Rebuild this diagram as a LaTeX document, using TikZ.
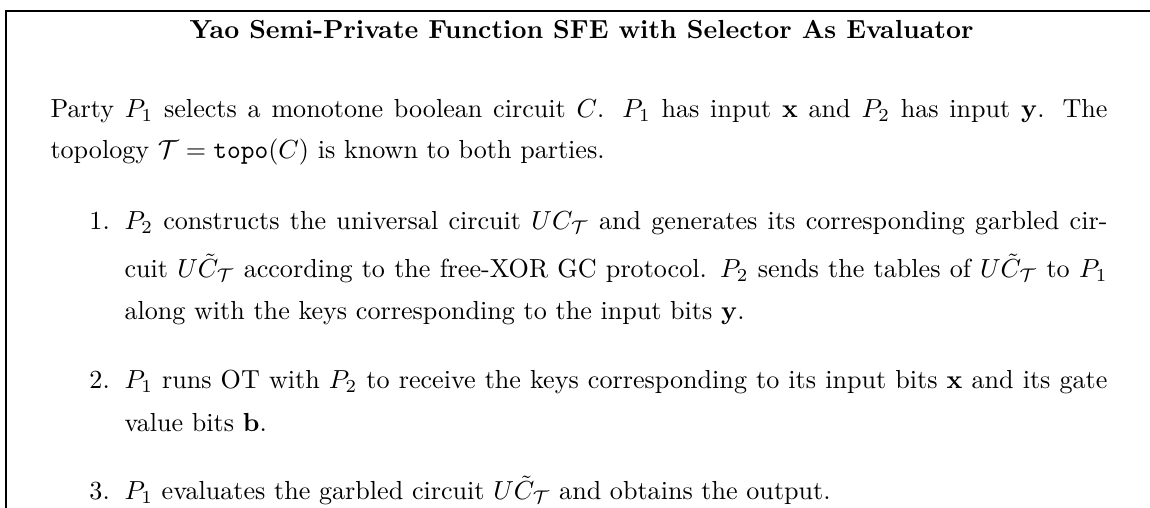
\documentclass[tikz,border=0pt]{standalone}
\usepackage{amsmath}
\newcommand{\gc}{U\tilde{C}_{\mathcal{T}}}
% a justified line of the given width
\newcommand{\fullline}[2]{\makebox[#1][s]{#2}}
\tikzset{
  textline/.style={inner sep=0pt, anchor=base west, font=\fontsize{10}{12}\selectfont},
  titletext/.style={inner sep=0pt, anchor=base, font=\fontsize{10}{12}\selectfont\bfseries},
  itemlabel/.style={inner sep=0pt, anchor=base east, font=\fontsize{10}{12}\selectfont},
  toprule/.style={line width=0.75pt},
  siderule/.style={line width=1pt},
}
\begin{document}
\begin{tikzpicture}[x=0.38314pt,y=-0.38314pt]
\useasboundingbox (0,0) rectangle (1150,508);
% frame: top and left rules
\coordinate (corner) at (6,11);
\coordinate (topend) at (1150,11);
\coordinate (sideend) at (6,508);
\draw[toprule] (corner) -- (topend);
\draw[siderule] ([yshift=0.37pt]corner) -- (sideend);
% heading
\node[titletext] (title) at (581.5,39) {Yao Semi-Private Function SFE with Selector As Evaluator};
% setting
\node[textline] (introA) at (50,118) {\fullline{405pt}{Party $P_1$ selects a monotone boolean circuit $C$. $P_1$ has input $\mathbf{x}$ and $P_2$ has input $\mathbf{y}$. The}};
\node[textline] (introB) at (50,159) {topology $\mathcal{T}=\texttt{topo}(C)$ is known to both parties.};
% step 1
\node[itemlabel] (l1) at (110.3,230) {1.};
\node[textline] (s1a) at (124,230) {\fullline{376.6pt}{$P_2$ constructs the universal circuit $UC_{\mathcal{T}}$ and generates its corresponding garbled cir-}};
\node[textline] (s1b) at (124,278) {\fullline{376.6pt}{cuit $\gc$ according to the free-XOR GC protocol. $P_2$ sends the tables of $\gc$ to $P_1$}};
\node[textline] (s1c) at (124,320) {along with the keys corresponding to the input bits $\mathbf{y}$.};
% step 2
\node[itemlabel] (l2) at (110.3,389) {2.};
\node[textline] (s2a) at (124,389) {\fullline{376.6pt}{$P_1$ runs OT with $P_2$ to receive the keys corresponding to its input bits $\mathbf{x}$ and its gate}};
\node[textline] (s2b) at (124,432) {value bits $\mathbf{b}$.};
% step 3
\node[itemlabel] (l3) at (110.3,500) {3.};
\node[textline] (s3a) at (124,500) {$P_1$ evaluates the garbled circuit $\gc$ and obtains the output.};
\end{tikzpicture}
\end{document}
